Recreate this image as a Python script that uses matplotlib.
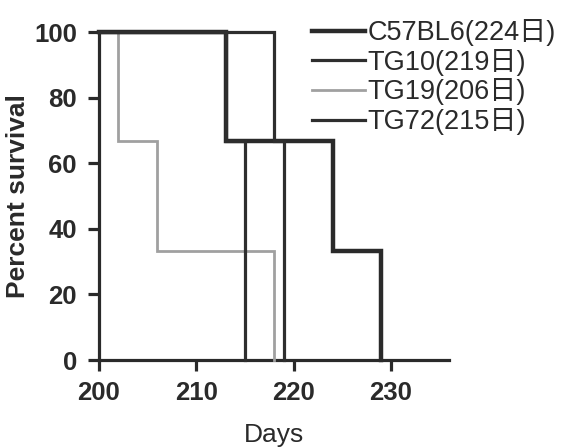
"""Kaplan-Meier style survival curves: C57BL6 vs three TG lines, median days in legend."""
import matplotlib
matplotlib.use('Agg'); import matplotlib.pyplot as plt

labels = ['C57BL6(224日)', 'TG10(219日)', 'TG19(206日)', 'TG72(215日)']
times = [[200, 213, 224, 229],
         [200, 218, 219],
         [200, 202, 206, 218],
         [200, 213, 215]]
surv = [[100, 66.7, 33.3, 0],
        [100, 66.7, 0],
        [100, 66.7, 33.3, 0],
        [100, 66.7, 0]]
colors = ['#2a2a2a', '#2e2e2e', '#a0a0a0', '#2e2e2e']
widths = [3.2, 2.3, 2.0, 2.3]
zord = [4, 4, 3, 5]

ink = '#2a2a2a'
fig = plt.figure(figsize=(5.71, 4.48), dpi=100)
ax = fig.add_axes([99/571, 1 - 360/448, (449.4 - 99)/571, (360 - 32)/448])

for t, s, c, w, z, lab in zip(times, surv, colors, widths, zord, labels):
    ax.step(t, s, where='post', color=c, lw=w, zorder=z, clip_on=False, label=lab,
            solid_joinstyle='miter')

ax.set_xlim(200, 236); ax.set_ylim(0, 100)
ax.set_xticks([200, 210, 220, 230]); ax.set_yticks([0, 20, 40, 60, 80, 100])
for sp in ['top', 'right']: ax.spines[sp].set_visible(False)
for sp in ['left', 'bottom']:
    ax.spines[sp].set_linewidth(2.3); ax.spines[sp].set_color(ink)
ax.tick_params(direction='out', length=8, width=2.3, color=ink)
ax.tick_params(axis='y', pad=8); ax.tick_params(axis='x', pad=7)
for lb in ax.get_xticklabels() + ax.get_yticklabels():
    lb.set_fontfamily('Liberation Sans'); lb.set_fontweight('bold')
    lb.set_fontsize(18.5); lb.set_color(ink)
ax.set_ylabel('Percent survival', family='Liberation Sans', fontweight='bold',
              fontsize=19, color=ink, labelpad=3)
ax.set_xlabel('Days', family='Liberation Sans', fontsize=19, color=ink, labelpad=13)

leg = ax.legend(loc='upper left', bbox_to_anchor=(312/571, 1 - 19/448),
                bbox_transform=fig.transFigure, frameon=False, borderpad=0,
                borderaxespad=0, handlelength=1.95, handletextpad=0.1,
                labelspacing=0.1,
                prop={'family': ['Liberation Sans', 'Noto Sans CJK JP'], 'size': 19.5})
for txt in leg.get_texts(): txt.set_color(ink)

fig.savefig('out.png', dpi=100)
